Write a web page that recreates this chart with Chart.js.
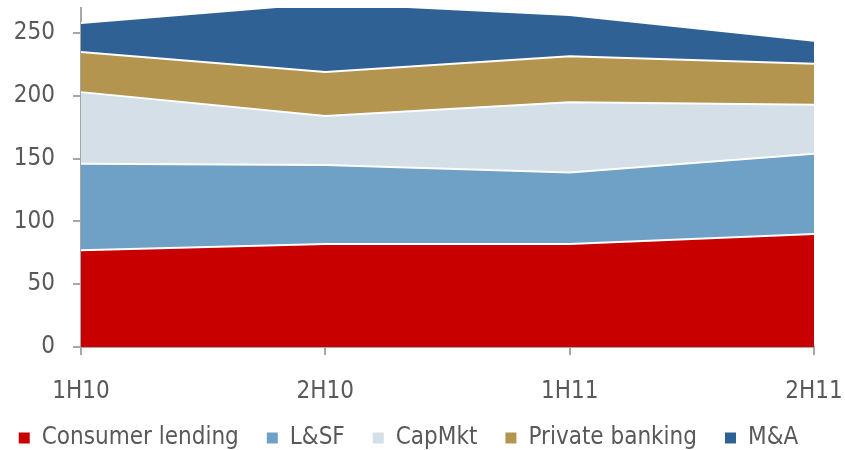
<!DOCTYPE html>
<html lang="en">
<head>
<meta charset="UTF-8">
<title>Revenue by business line</title>
<script src="https://cdn.jsdelivr.net/npm/chart.js"></script>
<style>
  html,body{margin:0;padding:0;background:#fff}
  #wrap{width:845px;height:450px}
</style>
</head>
<body>
<div id="wrap"><canvas id="chart" width="845" height="450"></canvas></div>
<script>
const periods=['1H10','2H10','1H11','2H11'];
const consumerLending=[77,82,82,90];
const lsf=[69,63,57,64];
const capMkt=[57,39,56,39];
const privateBanking=[32,35,36.5,32.5];
const ma=[23,55,33,18.5];
const yTicks=[0,50,100,150,200,250];

const FONT="'DejaVu Sans Condensed','DejaVu Sans',sans-serif";
const TXT='#595959';
const AXIS='#a6a6a6';

function series(label,data,color,fill){
  return {label,data,backgroundColor:color,borderColor:'#ffffff',borderWidth:2,
    fill,pointRadius:0,pointHoverRadius:0,tension:0};
}

const datasets=[
  series('Consumer lending',consumerLending,'#c80000','origin'),
  series('L&SF',lsf,'#6fa0c5','-1'),
  series('CapMkt',capMkt,'#d5dfe7','-1'),
  series('Private banking',privateBanking,'#b39550','-1'),
  series('M&A',ma,'#306194','-1')
];

// move the legend up and a little to the left, like the original
const legendShift={
  id:'legendShift',
  afterLayout(chart){
    const lg=chart.legend;
    if(!lg) return;
    lg.top-=9;
    lg.left-=14;lg.right-=14;
  }
};

new Chart(document.getElementById('chart'),{
  type:'line',
  data:{labels:periods,datasets},
  plugins:[legendShift],
  options:{
    responsive:false,
    animation:false,
    layout:{padding:{top:8,right:0,left:0,bottom:0}},
    plugins:{
      legend:{
        position:'bottom',
        maxHeight:43,
        labels:{
          font:{family:FONT,size:24},color:TXT,
          boxWidth:11,boxHeight:11,padding:28,
          generateLabels(chart){
            return Chart.defaults.plugins.legend.labels.generateLabels(chart).map(l=>{
              l.strokeStyle=l.fillStyle;l.lineWidth=0;return l;
            });
          }
        }
      },
      tooltip:{enabled:false}
    },
    scales:{
      x:{
        offset:false,
        grid:{display:true,drawOnChartArea:false,drawTicks:true,tickLength:8,color:AXIS,lineWidth:2},
        border:{display:true,color:AXIS,width:2},
        ticks:{font:{family:FONT,size:24},color:TXT,padding:22,maxRotation:0,autoSkip:false},
        afterFit(scale){scale.height=60;scale.paddingLeft=0;scale.paddingRight=31;}
      },
      y:{
        stacked:true,min:0,max:270,
        afterBuildTicks(scale){scale.ticks=yTicks.map(v=>({value:v}));},
        grid:{display:true,drawOnChartArea:false,drawTicks:true,tickLength:8,color:AXIS,lineWidth:2},
        border:{display:true,color:AXIS,width:2},
        ticks:{font:{family:FONT,size:24},color:TXT,padding:18},
        afterFit(scale){scale.width=81;scale.paddingTop=0;scale.paddingBottom=0;}
      }
    }
  }
});
</script>
</body>
</html>
